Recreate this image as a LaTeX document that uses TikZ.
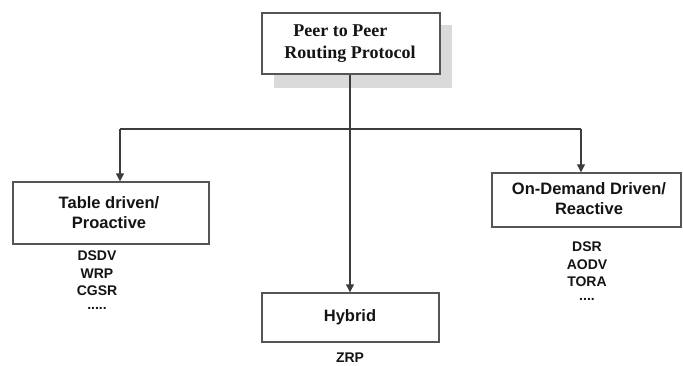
\documentclass[tikz,border=0pt]{standalone}
\usepackage{fontspec}
\setmainfont{Liberation Serif}
\setsansfont{Liberation Sans}
\usetikzlibrary{arrows.meta}
\definecolor{edgegray}{HTML}{555555}
\definecolor{linegray}{HTML}{3C3C3C}
\definecolor{shadowgray}{HTML}{DADADA}
\definecolor{txt}{HTML}{141414}
\tikzset{
  box/.style={draw=edgegray, line width=1.4pt, fill=white, inner sep=0pt},
  boxtext/.style={font=\sffamily\bfseries\fontsize{16.5}{20}\selectfont, text=txt, align=center},
  listtext/.style={font=\sffamily\bfseries\fontsize{14}{17.5}\selectfont, text=txt, align=center},
  conn/.style={draw=linegray, line width=1.2pt},
  arr/.style={conn, -{Triangle[length=8pt,width=8pt]}},
}
\begin{document}
\begin{tikzpicture}[x=1pt,y=-1pt]
\useasboundingbox (0,0) rectangle (683,365);
% shadow of top box
\fill[shadowgray] (274,25) rectangle (452,88);
% top box
\node[box, minimum width=178pt, minimum height=61pt] (top) at (351,43.5) {};
\node[font=\bfseries\fontsize{18}{22}\selectfont, text=txt, align=left] (toptext) at (350,43.5) {\hspace*{9pt}Peer to Peer\\Routing Protocol};
% children
\node[box, minimum width=196pt, minimum height=62pt] (left) at (111,213) {};
\node[boxtext] (lefttext) at (109,213) {Table driven/\\Proactive};
\node[box, minimum width=189pt, minimum height=54pt] (right) at (586.5,200) {};
\node[boxtext] (righttext) at (589,199) {On-Demand Driven/\\Reactive};
\node[box, minimum width=177pt, minimum height=49pt] (hyb) at (350.5,317.5) {};
\node[boxtext] (hybtext) at (350,317) {Hybrid};
% lists
\node[listtext] (leftlist) at (97,280) {DSDV\\WRP\\CGSR\\[-4pt].....};
\node[listtext] (rightlist) at (587,271) {DSR\\AODV\\TORA\\[-4pt]....};
\node[listtext] (zrp) at (350,358) {ZRP};
% connectors
\coordinate (j) at (350,129);
\coordinate (jl) at (120,129);
\coordinate (jr) at (581,129);
\draw[conn] (top.south -| j) -- (j);
\draw[arr] (j) -- (hyb.north -| j);
\draw[arr] (jl) -- (jl |- left.north);
\draw[arr] (jr) -- (jr |- right.north);
\draw[conn] (jl) -- (jr);
\end{tikzpicture}
\end{document}
